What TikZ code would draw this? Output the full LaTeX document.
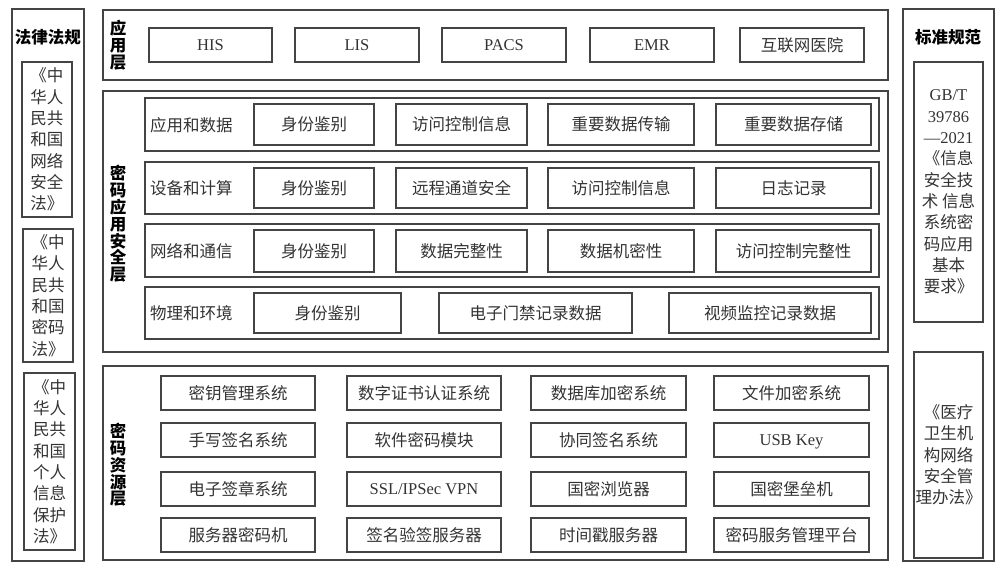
\documentclass[tikz,border=0pt]{standalone}
\usepackage{fontspec}
\setmainfont{Liberation Serif}
\newfontfamily\cjk{Noto Sans CJK SC}
\definecolor{ln}{HTML}{444444}
\definecolor{tx}{HTML}{333333}
\tikzset{
  x=1pt,y=-1pt,
  box/.style={draw=ln,line width=1.2pt,inner sep=0pt,outer sep=0pt,text=tx,align=center,
    font=\cjk\fontsize{16.5}{21.3}\selectfont},
  lat/.style={font=\fontsize{16.5}{20}\selectfont,text height=12pt,text depth=1.1pt},
  ttl/.style={inner sep=0pt,text=black,font=\cjk\bfseries\fontsize{16.5}{16.8}\selectfont,align=center},
  rowlbl/.style={inner sep=0pt,anchor=west,text=tx,font=\cjk\fontsize{16.5}{20}\selectfont},
}
\newcommand\lt[1]{{\rmfamily #1}}
\newcommand\bx[7][]{\node[box,#1,minimum width={#5-#3},minimum height={#6-#4}] (#2) at ({(#3+#5)/2},{(#4+#6)/2}) {#7};}
\begin{document}
\begin{tikzpicture}
\useasboundingbox (0,0) rectangle (1005,576);
% left column
\bx{law}{12}{9}{84}{561}{}
\node[ttl] (lawt) at (48,37) {法律法规};
\bx{law1}{22}{62}{72}{217}{《中\\华人\\民共\\和国\\网络\\安全\\法》}
\bx{law2}{23}{229}{73}{362}{《中\\华人\\民共\\和国\\密码\\法》}
\bx{law3}{24}{373}{75}{550}{《中\\华人\\民共\\和国\\个人\\信息\\保护\\法》}
% right column
\bx{std}{903}{9}{994}{561}{}
\node[ttl] (stdt) at (948,37) {标准规范};
\bx{std1}{914}{62}{983}{322}{\lt{GB/T}\\\lt{39786}\\\lt{—2021}\\《信息\\安全技\\术 信息\\系统密\\码应用\\基本\\要求》}
\bx{std2}{914}{352}{983}{558}{《医疗\\卫生机\\构网络\\安全管\\理办法》}
% application layer
\bx{app}{103}{10}{888}{80}{}
\node[ttl] (appt) at (118,45) {应\\用\\层};
\bx[lat]{his}{149}{28}{272}{62}{HIS}
\bx[lat]{lis}{295}{28}{419}{62}{LIS}
\bx[lat]{pacs}{442}{28}{566}{62}{PACS}
\bx[lat]{emr}{590}{28}{714}{62}{EMR}
\bx{hos}{740}{28}{864}{62}{互联网医院}
% crypto application security layer
\bx{sec}{103}{91}{888}{352}{}
\node[ttl] (sect) at (118,224) {密\\码\\应\\用\\安\\全\\层};
\bx{r1}{145}{98}{879}{151}{}
\bx{r2}{145}{162}{879}{214}{}
\bx{r3}{145}{224}{879}{277}{}
\bx{r4}{145}{287}{879}{339}{}
\node[rowlbl] (r1t) at (150,125) {应用和数据};
\node[rowlbl] (r2t) at (150,188) {设备和计算};
\node[rowlbl] (r3t) at (150,251) {网络和通信};
\node[rowlbl] (r4t) at (150,313) {物理和环境};
\bx{a11}{254}{104}{374}{145}{身份鉴别}
\bx{a12}{396}{104}{527}{145}{访问控制信息}
\bx{a13}{548}{104}{694}{145}{重要数据传输}
\bx{a14}{716}{104}{871}{145}{重要数据存储}
\bx{a21}{254}{168}{374}{208}{身份鉴别}
\bx{a22}{396}{168}{527}{208}{远程通道安全}
\bx{a23}{548}{168}{694}{208}{访问控制信息}
\bx{a24}{716}{168}{871}{208}{日志记录}
\bx{a31}{254}{230}{374}{272}{身份鉴别}
\bx{a32}{396}{230}{527}{272}{数据完整性}
\bx{a33}{548}{230}{694}{272}{数据机密性}
\bx{a34}{716}{230}{871}{272}{访问控制完整性}
\bx{a41}{254}{293}{401}{333}{身份鉴别}
\bx{a42}{439}{293}{632}{333}{电子门禁记录数据}
\bx{a43}{669}{293}{871}{333}{视频监控记录数据}
% crypto resource layer
\bx{res}{103}{366}{888}{560}{}
\node[ttl] (rest) at (118,465) {密\\码\\资\\源\\层};
\bx{b11}{161}{376}{315}{410}{密钥管理系统}
\bx{b12}{347}{376}{501}{410}{数字证书认证系统}
\bx{b13}{531}{376}{686}{410}{数据库加密系统}
\bx{b14}{714}{376}{869}{410}{文件加密系统}
\bx{b21}{161}{423}{315}{457}{手写签名系统}
\bx{b22}{347}{423}{501}{457}{软件密码模块}
\bx{b23}{531}{423}{686}{457}{协同签名系统}
\bx[lat]{b24}{714}{423}{869}{457}{USB Key}
\bx{b31}{161}{472}{315}{506}{电子签章系统}
\bx[lat]{b32}{347}{472}{501}{506}{SSL/IPSec VPN}
\bx{b33}{531}{472}{686}{506}{国密浏览器}
\bx{b34}{714}{472}{869}{506}{国密堡垒机}
\bx{b41}{161}{518}{315}{552}{服务器密码机}
\bx{b42}{347}{518}{501}{552}{签名验签服务器}
\bx{b43}{531}{518}{686}{552}{时间戳服务器}
\bx{b44}{714}{518}{869}{552}{密码服务管理平台}
\end{tikzpicture}
\end{document}
